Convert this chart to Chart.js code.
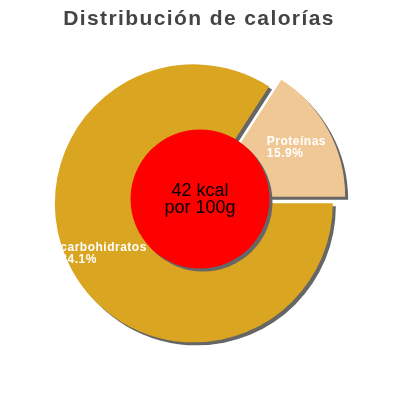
<!DOCTYPE html>
<html>
<head>
<meta charset="utf-8">
<script src="https://cdn.jsdelivr.net/npm/chart.js@4"></script>
<style>
html,body{margin:0;padding:0;background:#fff;}
#wrap{width:400px;height:400px;position:relative;}
</style>
</head>
<body>
<div id="wrap"><canvas id="c" width="400" height="400"></canvas></div>
<script>
const chartTitle = 'Distribución de calorías';
const categories = ['carbohidratos', 'Proteínas'];
const percents = [84.1, 15.9];
const sliceColors = ['#DAA520', '#F0C896'];
const kcal = 42;
const centerLines = [kcal + ' kcal', 'por 100g'];

const FONT = "'Liberation Sans', Arial, sans-serif";
const EXPLODE = 7;

const decorPlugin = {
  id: 'decor',
  beforeDatasetsDraw(chart) {
    const meta = chart.getDatasetMeta(0);
    meta.data.forEach(arc => {
      if (arc._wrapped) return;
      const orig = arc.draw;
      arc.draw = function (ctx) {
        const mid = (this.startAngle + this.endAngle) / 2;
        ctx.save();
        ctx.translate(Math.cos(mid) * EXPLODE, Math.sin(mid) * EXPLODE);
        orig.call(this, ctx);
        ctx.restore();
      };
      arc._wrapped = true;
    });
    const c = chart.ctx;
    c.save();
    c.shadowColor = '#666666';
    c.shadowOffsetX = 3;
    c.shadowOffsetY = 3;
    c.shadowBlur = 0;
  },
  afterDatasetsDraw(chart) {
    const c = chart.ctx;
    c.restore();
    const meta = chart.getDatasetMeta(0);
    const arc0 = meta.data[0];
    const cx = arc0.x, cy = arc0.y;
    const R = arc0.outerRadius;
    // center disc
    c.save();
    c.shadowColor = '#666666';
    c.shadowOffsetX = 3;
    c.shadowOffsetY = 3;
    c.beginPath();
    c.arc(cx, cy - 1, R * 0.5, 0, Math.PI * 2);
    c.fillStyle = '#FF0000';
    c.fill();
    c.restore();
    // center text
    c.save();
    c.fillStyle = '#000';
    c.font = '18px ' + FONT;
    c.textAlign = 'center';
    c.textBaseline = 'alphabetic';
    c.fillText(centerLines[0], cx, cy - 4);
    c.fillText(centerLines[1], cx, cy + 13);
    c.restore();
    // slice labels
    c.save();
    c.fillStyle = '#fff';
    c.font = 'bold 12px ' + FONT;
    try { c.letterSpacing = '0.5px'; } catch (e) {}
    c.textAlign = 'left';
    c.textBaseline = 'alphabetic';
    meta.data.forEach((arc, i) => {
      const mid = (arc.startAngle + arc.endAngle) / 2;
      const rl = R * 0.79;
      const px = cx + Math.cos(mid) * rl;
      const py = cy + Math.sin(mid) * rl;
      const lines = [categories[i], percents[i].toFixed(1) + '%'];
      const w = Math.max(...lines.map(l => c.measureText(l).width));
      const left = px - w / 2;
      c.fillText(lines[0], left, py - 2);
      c.fillText(lines[1], left, py + 10);
    });
    c.restore();
  },
  afterDraw(chart) {
    const c = chart.ctx;
    c.save();
    c.fillStyle = '#444444';
    c.font = 'bold 21px ' + FONT;
    try { c.letterSpacing = '1.4px'; } catch (e) {}
    c.textAlign = 'center';
    c.textBaseline = 'alphabetic';
    c.fillText(chartTitle, 199, 25);
    c.restore();
  }
};

new Chart(document.getElementById('c'), {
  type: 'pie',
  data: {
    labels: categories,
    datasets: [{
      data: percents,
      backgroundColor: sliceColors,
      borderWidth: 0,
      offset: 0
    }]
  },
  options: {
    responsive: false,
    animation: false,
    devicePixelRatio: 1,
    rotation: 90,
    radius: 139,
    layout: { padding: { top: 40, bottom: 40, left: 0, right: 0 } },
    plugins: {
      legend: { display: false },
      tooltip: { enabled: false },
      title: { display: false }
    }
  },
  plugins: [decorPlugin]
});
</script>
</body>
</html>
